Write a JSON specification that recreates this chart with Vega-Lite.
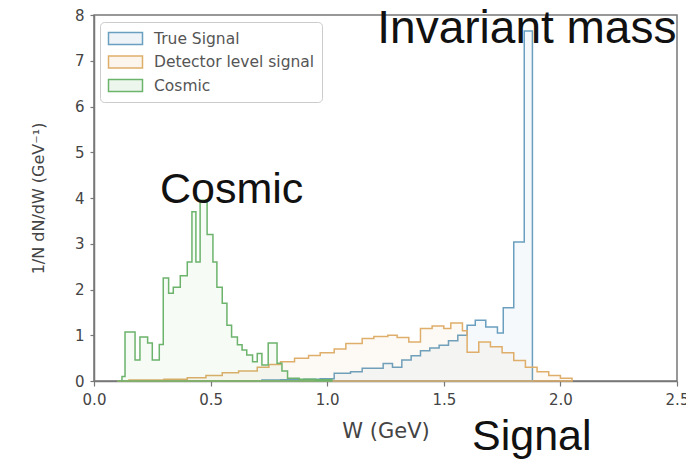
{
  "$schema": "https://vega.github.io/schema/vega-lite/v6.json",
  "width": 583,
  "height": 366,
  "autosize": {"type": "none"},
  "padding": {"left": 94, "top": 15, "right": 9, "bottom": 82},
  "background": "white",
  "config": {
    "view": {"stroke": "#777", "strokeWidth": 1.5},
    "axis": {
      "domainColor": "#777", "domainWidth": 1.5,
      "tickColor": "#777", "tickSize": 5, "tickWidth": 1.2,
      "labelFont": "DejaVu Sans", "labelFontSize": 15, "labelColor": "#444",
      "labelFlush": false, "labelOverlap": false,
      "titleFont": "DejaVu Sans", "titleColor": "#444", "titleFontWeight": "normal",
      "grid": false
    },
    "legend": {
      "orient": "none", "legendX": 6, "legendY": 7, "padding": 7,
      "strokeColor": "#ccc", "fillColor": "white", "cornerRadius": 4,
      "labelFont": "DejaVu Sans", "labelFontSize": 15.5, "labelColor": "#555", "labelLimit": 0,
      "symbolType": "M-2,-0.7H2V0.7H-2Z", "symbolSize": 289, "symbolStrokeWidth": 1.5,
      "symbolOffset": 9, "rowPadding": 4.5, "labelOffset": 19
    }
  },
  "layer": [
    {
      "data": {"values": [
        {"series": "True Signal", "x": 0.70, "y": 0},
        {"series": "True Signal", "x": 0.72, "y": 0.02},
        {"series": "True Signal", "x": 0.80, "y": 0.03},
        {"series": "True Signal", "x": 0.90, "y": 0.04},
        {"series": "True Signal", "x": 0.97, "y": 0.05},
        {"series": "True Signal", "x": 1.03, "y": 0.17},
        {"series": "True Signal", "x": 1.10, "y": 0.2},
        {"series": "True Signal", "x": 1.15, "y": 0.28},
        {"series": "True Signal", "x": 1.24, "y": 0.38},
        {"series": "True Signal", "x": 1.28, "y": 0.3},
        {"series": "True Signal", "x": 1.32, "y": 0.46},
        {"series": "True Signal", "x": 1.36, "y": 0.55},
        {"series": "True Signal", "x": 1.40, "y": 0.66},
        {"series": "True Signal", "x": 1.44, "y": 0.72},
        {"series": "True Signal", "x": 1.48, "y": 0.78},
        {"series": "True Signal", "x": 1.52, "y": 0.88},
        {"series": "True Signal", "x": 1.56, "y": 1.0},
        {"series": "True Signal", "x": 1.60, "y": 1.22},
        {"series": "True Signal", "x": 1.635, "y": 1.33},
        {"series": "True Signal", "x": 1.68, "y": 1.18},
        {"series": "True Signal", "x": 1.73, "y": 1.05},
        {"series": "True Signal", "x": 1.755, "y": 1.6},
        {"series": "True Signal", "x": 1.80, "y": 3.04},
        {"series": "True Signal", "x": 1.845, "y": 7.65},
        {"series": "True Signal", "x": 1.88, "y": 0},
        {"series": "Detector level signal", "x": 0.10, "y": 0},
        {"series": "Detector level signal", "x": 0.15, "y": 0.02},
        {"series": "Detector level signal", "x": 0.30, "y": 0.04},
        {"series": "Detector level signal", "x": 0.40, "y": 0.07},
        {"series": "Detector level signal", "x": 0.48, "y": 0.12},
        {"series": "Detector level signal", "x": 0.55, "y": 0.18},
        {"series": "Detector level signal", "x": 0.62, "y": 0.22},
        {"series": "Detector level signal", "x": 0.70, "y": 0.3},
        {"series": "Detector level signal", "x": 0.75, "y": 0.36},
        {"series": "Detector level signal", "x": 0.80, "y": 0.42},
        {"series": "Detector level signal", "x": 0.86, "y": 0.5},
        {"series": "Detector level signal", "x": 0.92, "y": 0.56},
        {"series": "Detector level signal", "x": 0.97, "y": 0.62},
        {"series": "Detector level signal", "x": 1.03, "y": 0.7},
        {"series": "Detector level signal", "x": 1.08, "y": 0.82},
        {"series": "Detector level signal", "x": 1.15, "y": 0.93},
        {"series": "Detector level signal", "x": 1.20, "y": 0.97},
        {"series": "Detector level signal", "x": 1.26, "y": 1.0},
        {"series": "Detector level signal", "x": 1.30, "y": 0.95},
        {"series": "Detector level signal", "x": 1.35, "y": 0.85},
        {"series": "Detector level signal", "x": 1.40, "y": 1.15},
        {"series": "Detector level signal", "x": 1.45, "y": 1.2},
        {"series": "Detector level signal", "x": 1.50, "y": 1.15},
        {"series": "Detector level signal", "x": 1.53, "y": 1.27},
        {"series": "Detector level signal", "x": 1.58, "y": 1.1},
        {"series": "Detector level signal", "x": 1.60, "y": 0.63},
        {"series": "Detector level signal", "x": 1.65, "y": 0.85},
        {"series": "Detector level signal", "x": 1.70, "y": 0.75},
        {"series": "Detector level signal", "x": 1.75, "y": 0.62},
        {"series": "Detector level signal", "x": 1.80, "y": 0.45},
        {"series": "Detector level signal", "x": 1.85, "y": 0.3},
        {"series": "Detector level signal", "x": 1.90, "y": 0.2},
        {"series": "Detector level signal", "x": 1.95, "y": 0.12},
        {"series": "Detector level signal", "x": 2.00, "y": 0.06},
        {"series": "Detector level signal", "x": 2.05, "y": 0},
        {"series": "Cosmic", "x": 0.10, "y": 0},
        {"series": "Cosmic", "x": 0.12, "y": 0.1},
        {"series": "Cosmic", "x": 0.133, "y": 1.07},
        {"series": "Cosmic", "x": 0.176, "y": 0.46},
        {"series": "Cosmic", "x": 0.197, "y": 0.96},
        {"series": "Cosmic", "x": 0.23, "y": 0.83},
        {"series": "Cosmic", "x": 0.25, "y": 0.46},
        {"series": "Cosmic", "x": 0.28, "y": 0.8},
        {"series": "Cosmic", "x": 0.297, "y": 2.25},
        {"series": "Cosmic", "x": 0.32, "y": 1.92},
        {"series": "Cosmic", "x": 0.34, "y": 2.05},
        {"series": "Cosmic", "x": 0.37, "y": 2.3},
        {"series": "Cosmic", "x": 0.40, "y": 2.6},
        {"series": "Cosmic", "x": 0.42, "y": 3.7},
        {"series": "Cosmic", "x": 0.437, "y": 2.6},
        {"series": "Cosmic", "x": 0.455, "y": 3.95},
        {"series": "Cosmic", "x": 0.485, "y": 3.2},
        {"series": "Cosmic", "x": 0.51, "y": 2.6},
        {"series": "Cosmic", "x": 0.527, "y": 2.05},
        {"series": "Cosmic", "x": 0.55, "y": 1.7},
        {"series": "Cosmic", "x": 0.57, "y": 1.22},
        {"series": "Cosmic", "x": 0.59, "y": 0.96},
        {"series": "Cosmic", "x": 0.615, "y": 0.79},
        {"series": "Cosmic", "x": 0.635, "y": 0.68},
        {"series": "Cosmic", "x": 0.655, "y": 0.57},
        {"series": "Cosmic", "x": 0.68, "y": 0.42},
        {"series": "Cosmic", "x": 0.70, "y": 0.6},
        {"series": "Cosmic", "x": 0.72, "y": 0.35},
        {"series": "Cosmic", "x": 0.747, "y": 0.83},
        {"series": "Cosmic", "x": 0.785, "y": 0.39},
        {"series": "Cosmic", "x": 0.806, "y": 0.22},
        {"series": "Cosmic", "x": 0.83, "y": 0.06},
        {"series": "Cosmic", "x": 0.88, "y": 0.04},
        {"series": "Cosmic", "x": 0.95, "y": 0.03},
        {"series": "Cosmic", "x": 1.02, "y": 0}
      ]},
      "mark": {"type": "area", "interpolate": "step-after", "fillOpacity": 0.06, "strokeWidth": 1.5, "strokeOpacity": 1},
      "encoding": {
        "x": {"field": "x", "type": "quantitative",
          "scale": {"domain": [0, 2.5], "nice": false},
          "axis": {"values": [0, 0.5, 1, 1.5, 2, 2.5], "format": ".1f", "title": "W  (GeV)", "titleFontSize": 21, "labelPadding": 6, "titlePadding": 13}},
        "y": {"field": "y", "type": "quantitative", "stack": null,
          "scale": {"domain": [0, 8], "nice": false},
          "axis": {"values": [0, 1, 2, 3, 4, 5, 6, 7, 8], "title": "1/N dN/dW  (GeV⁻¹)", "titleFontSize": 16, "tickSize": 4, "labelPadding": 6, "titlePadding": 28}},
        "fill": {"field": "series", "type": "nominal",
          "scale": {"domain": ["True Signal", "Detector level signal", "Cosmic"], "range": ["#6a9fc0", "#dfae6a", "#6cb36c"]},
          "legend": {"title": null, "encode": {"symbols": {"update": {"fillOpacity": {"value": 0.12}, "strokeOpacity": {"value": 1}}}}}},
        "stroke": {"field": "series", "type": "nominal",
          "scale": {"domain": ["True Signal", "Detector level signal", "Cosmic"], "range": ["#6a9fc0", "#dfae6a", "#6cb36c"]},
          "legend": {"title": null, "encode": {"symbols": {"update": {"fillOpacity": {"value": 0.12}, "strokeOpacity": {"value": 1}}}}}}
      }
    },
    {
      "data": {"values": [
        {"label": "Cosmic", "x": 0.283, "y": 3.89},
        {"label": "Signal", "x": 1.621, "y": -1.51}
      ]},
      "mark": {"type": "text", "font": "Liberation Sans", "fontSize": 43, "align": "left", "baseline": "alphabetic", "color": "#111"},
      "encoding": {
        "x": {"field": "x", "type": "quantitative"},
        "y": {"field": "y", "type": "quantitative"},
        "text": {"field": "label", "type": "nominal"}
      }
    },
    {
      "data": {"values": [
        {"label": "Invariant mass", "x": 1.215, "y": 7.38}
      ]},
      "mark": {"type": "text", "font": "Liberation Sans", "fontSize": 46, "align": "left", "baseline": "alphabetic", "color": "#111"},
      "encoding": {
        "x": {"field": "x", "type": "quantitative"},
        "y": {"field": "y", "type": "quantitative"},
        "text": {"field": "label", "type": "nominal"}
      }
    }
  ]
}
